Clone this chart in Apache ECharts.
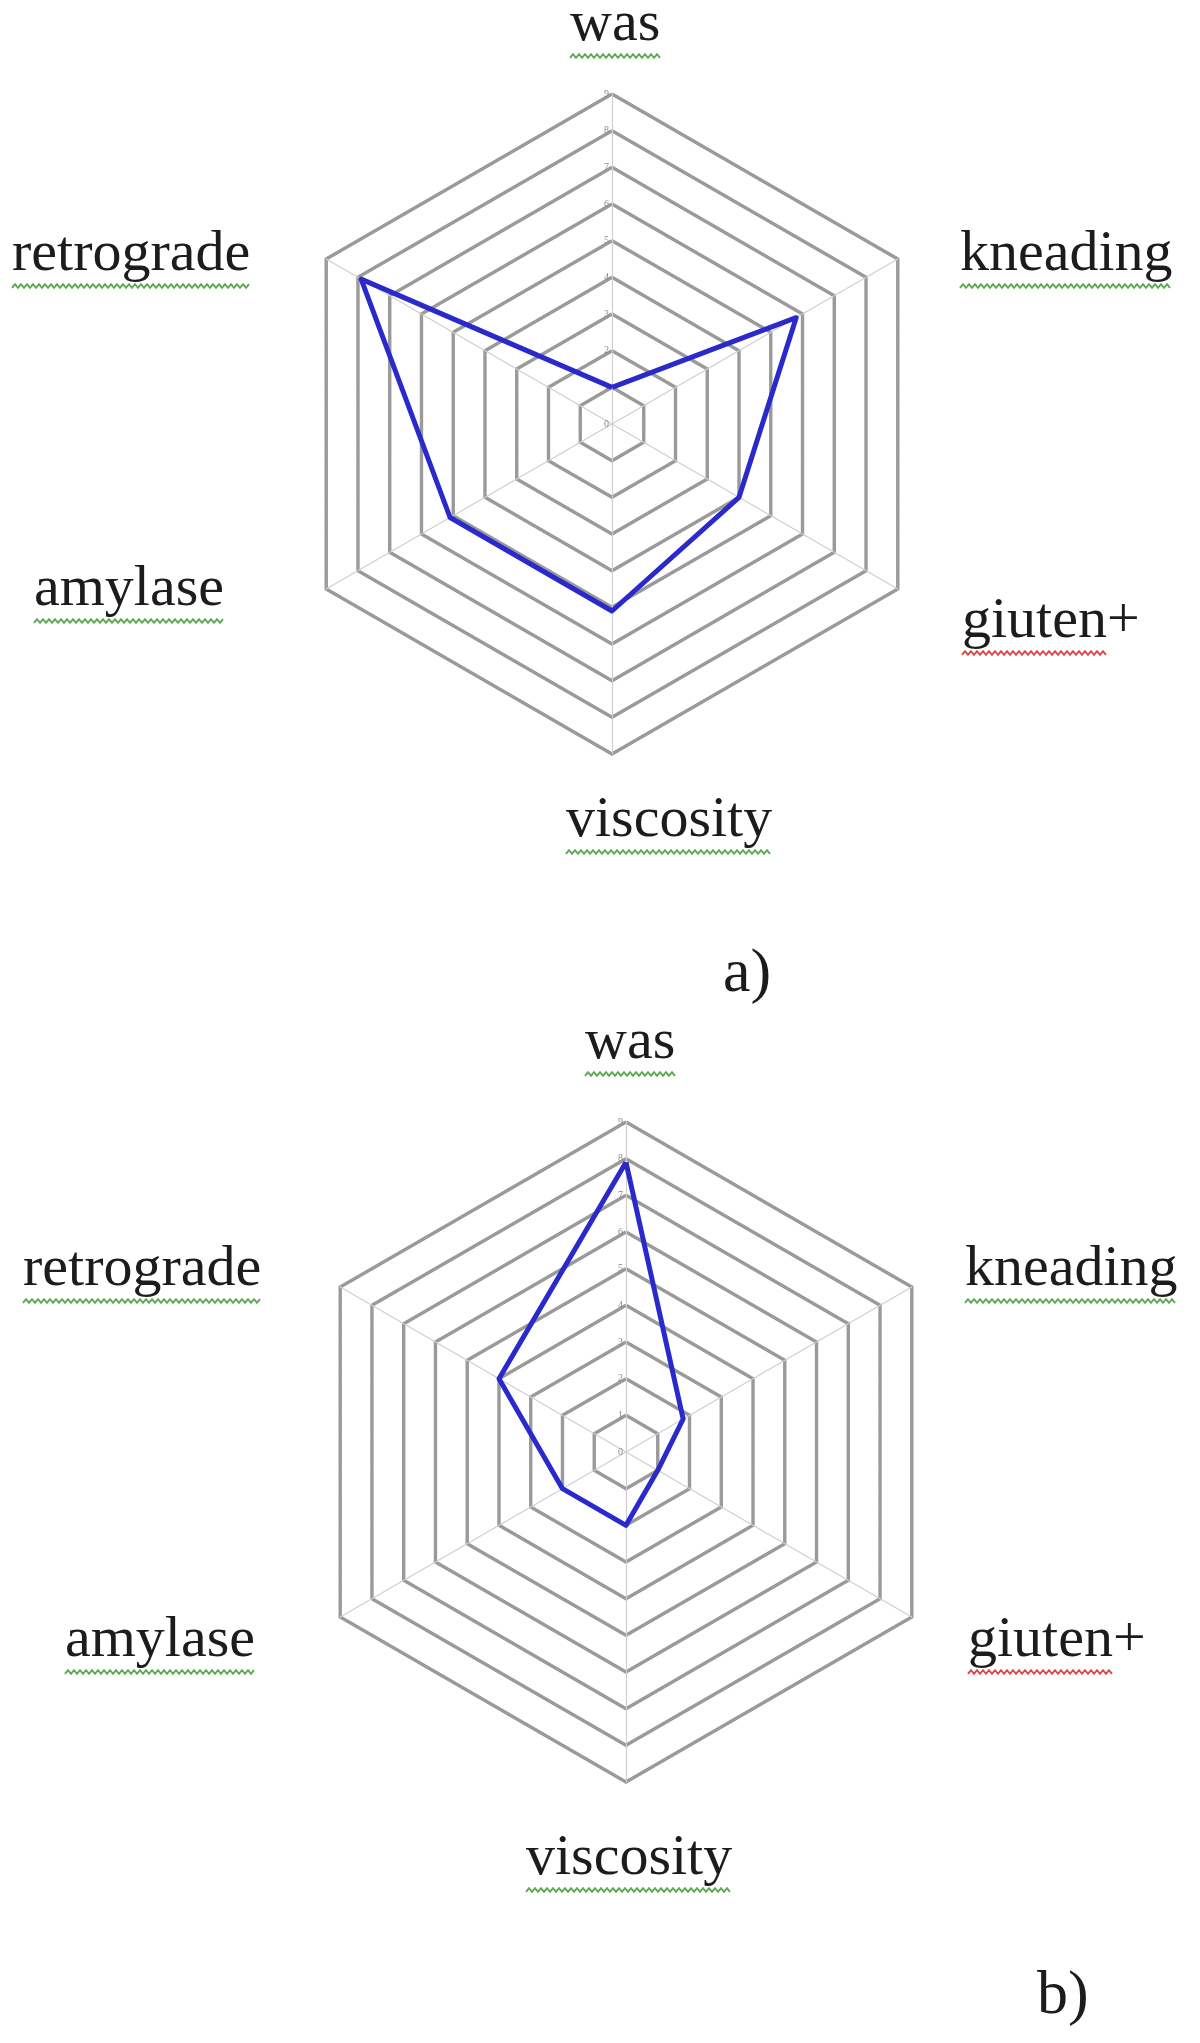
<!DOCTYPE html>
<html><head><meta charset="utf-8">
<script src="https://cdn.jsdelivr.net/npm/echarts@6/dist/echarts.min.js"></script>
<style>html,body{margin:0;padding:0;background:#fff}#c{width:1200px;height:2043px}</style>
</head><body><div id="c"></div>
<script>
// Data (radar axes listed counter-clockwise from the top, as ECharts places them)
const axisNames = ['was', 'retrograde', 'amylase', 'viscosity', 'giuten+', 'kneading'];
const valuesA = [1.0, 7.9, 5.1, 5.1, 4.0, 5.8];
const valuesB = [7.9, 4.0, 2.0, 2.0, 1.0, 1.8];
const axisMax = 9;
const ringCount = 9;
const panelLabels = ['a)', 'b)'];

// Layout (styling only): [left x, baseline y]
const FSIZE = 58;
const FONT = FSIZE + 'px "Liberation Serif"';
const labelPos = [
  { // chart a
    'was': [570, 44], 'retrograde': [12, 274], 'kneading': [960, 274],
    'amylase': [34, 609], 'giuten+': [962, 641], 'viscosity': [566, 840],
    panel: [723, 996]
  },
  { // chart b
    'was': [585, 1062], 'retrograde': [23, 1289], 'kneading': [965, 1289],
    'amylase': [65, 1660], 'giuten+': [968, 1660], 'viscosity': [526, 1878],
    panel: [1037, 2018]
  }
];

const cvs = document.createElement('canvas').getContext('2d');
function textWidth(t, font) { cvs.font = font; return cvs.measureText(t).width; }

function wave(x0, w, y, color) {
  const pts = [];
  let i = 0;
  for (let x = x0; x <= x0 + w; x += 3, i++) pts.push([x, y + (i % 2 ? -1.8 : 1.8)]);
  return { type: 'polyline', silent: true, shape: { points: pts }, style: { stroke: color, lineWidth: 2, fill: null } };
}

const graphics = [];
labelPos.forEach(function (lp, k) {
  axisNames.forEach(function (name) {
    const p = lp[name];
    graphics.push({ type: 'text', x: p[0], y: p[1] - 0.3375 * FSIZE, silent: true,
      style: { text: name, font: FONT, fill: '#1c1c1c', align: 'left', verticalAlign: 'middle' } });
    const isRed = name === 'giuten+';
    const underText = isRed ? 'giuten' : name;
    graphics.push(wave(p[0], textWidth(underText, FONT), p[1] + 12, isRed ? '#d94a4a' : '#5fa855'));
  });
  graphics.push({ type: 'text', x: lp.panel[0], y: lp.panel[1] - 0.3375 * 62, silent: true,
    style: { text: panelLabels[k], font: '62px "Liberation Serif"', fill: '#1c1c1c', align: 'left', verticalAlign: 'middle' } });
});

function radarCfg(center) {
  return {
    center: center, radius: 330, startAngle: 90, shape: 'polygon', splitNumber: ringCount,
    indicator: axisNames.map(function (n, i) {
      const ind = { name: n, min: 0, max: axisMax };
      if (i === 0) ind.axisLabel = { show: true, fontSize: 10, color: '#8a8a8a', margin: 3, fontFamily: 'Liberation Serif' };
      return ind;
    }),
    axisName: { show: false },
    splitLine: { lineStyle: { color: '#9a9a9a', width: 3.4 } },
    splitArea: { show: false },
    axisLine: { lineStyle: { color: '#cfcfcf', width: 1.2 } }
  };
}

const chart = echarts.init(document.getElementById('c'), null, { renderer: 'canvas' });
chart.setOption({
  backgroundColor: '#ffffff',
  animation: false,
  radar: [radarCfg([612, 424]), radarCfg([626, 1452])],
  series: [
    { type: 'radar', radarIndex: 0, symbol: 'none',
      lineStyle: { color: '#2a2acc', width: 5 }, data: [{ value: valuesA }] },
    { type: 'radar', radarIndex: 1, symbol: 'none',
      lineStyle: { color: '#2a2acc', width: 5 }, data: [{ value: valuesB }] }
  ],
  graphic: graphics
});
</script></body></html>
